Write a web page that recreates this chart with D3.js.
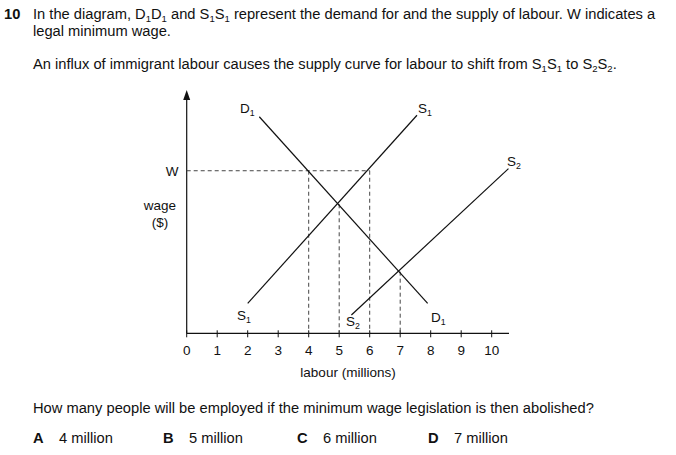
<!DOCTYPE html>
<html>
<head>
<meta charset="utf-8">
<script src="https://d3js.org/d3.v7.min.js"></script>
<style>
  body { margin: 0; background: #fff; }
  svg text { font-family: 'Liberation Sans', Arial, sans-serif; fill: #111; }
</style>
</head>
<body>
<svg id="c" width="676" height="455"></svg>
<script>
// data (labour in millions, wage in arbitrary units)
const xTicks = [0, 1, 2, 3, 4, 5, 6, 7, 8, 9, 10];
const demandD1 = [[2.38, 7.1], [7.9, 0.98]];
const supplyS1 = [[2.0, 0.98], [7.55, 7.15]];
const supplyS2 = [[5.4, 0.6], [10.55, 5.4]];
const minWage = 5.33;
const dropLines = [[4, minWage], [5, 4.23], [6, minWage], [7, 2.02]];

const svg = d3.select("#c");
const x = d3.scaleLinear().domain([0, 10]).range([186.7, 491.7]);
const y = d3.scaleLinear().domain([0, 8]).range([333.3, 89.3]);

// text with subscripts
function para(xp, yp, parts, size) {
  size = size || 14.7;
  const t = svg.append("text").attr("x", xp).attr("y", yp).attr("font-size", size);
  parts.forEach(p => {
    if (typeof p === "string") t.append("tspan").text(p);
    else t.append("tspan").attr("font-size", size * 0.65).attr("baseline-shift", "-3").text(p.sub);
  });
  return t;
}
function sub(s) { return {sub: s}; }
svg.append("text").attr("x", 4).attr("y", 19).attr("font-size", 14.7).attr("font-weight", "bold").text("10");
para(33, 19, ["In the diagram, D", sub("1"), "D", sub("1"), " and S", sub("1"), "S", sub("1"),
  " represent the demand for and the supply of labour. W indicates a"]);
para(33, 36, ["legal minimum wage."]);
para(33, 69, ["An influx of immigrant labour causes the supply curve for labour to shift from S", sub("1"),
  "S", sub("1"), " to S", sub("2"), "S", sub("2"), "."]);

// axes
const g = svg.append("g").attr("stroke", "#111").attr("fill", "none");
g.append("line").attr("x1", x(0)).attr("y1", y(0)).attr("x2", 509).attr("y2", y(0)).attr("stroke-width", 1.2);
g.append("line").attr("x1", x(0)).attr("y1", y(0)).attr("x2", x(0)).attr("y2", 98).attr("stroke-width", 1.2);
svg.append("path").attr("d", `M${x(0) - 3.5},100 L${x(0)},90 L${x(0) + 3.5},100 Z`).attr("fill", "#111");
xTicks.forEach(v => {
  g.append("line").attr("x1", x(v)).attr("x2", x(v)).attr("y1", y(0) - 3).attr("y2", y(0) + 4);
  svg.append("text").attr("x", x(v)).attr("y", 355).attr("text-anchor", "middle").attr("font-size", 13.5).text(v);
});
svg.append("text").attr("x", 348).attr("y", 377).attr("text-anchor", "middle").attr("font-size", 13.5).text("labour (millions)");
svg.append("text").attr("x", 172).attr("y", 176).attr("text-anchor", "middle").attr("font-size", 13.5).text("W");
svg.append("text").attr("x", 160).attr("y", 210).attr("text-anchor", "middle").attr("font-size", 13.5).text("wage");
svg.append("text").attr("x", 160).attr("y", 227).attr("text-anchor", "middle").attr("font-size", 13.5).text("($)");

// dashed lines
const dash = svg.append("g").attr("stroke", "#444").attr("stroke-dasharray", "4,3").attr("stroke-width", 1);
dash.append("line").attr("x1", x(0)).attr("x2", x(6)).attr("y1", y(minWage)).attr("y2", y(minWage));
dropLines.forEach(d => dash.append("line").attr("x1", x(d[0])).attr("x2", x(d[0])).attr("y1", y(d[1])).attr("y2", y(0)));

// curves
const line = d3.line().x(d => x(d[0])).y(d => y(d[1]));
[demandD1, supplyS1, supplyS2].forEach(d =>
  svg.append("path").attr("d", line(d)).attr("fill", "none").attr("stroke", "#111").attr("stroke-width", 1.2));

// curve labels
function lab(xp, yp, L, s) { para(xp, yp, [L, sub(s)], 13.5); }
lab(240, 113, "D", "1");
lab(418, 113, "S", "1");
lab(507, 166, "S", "2");
lab(237, 320, "S", "1");
lab(346, 326, "S", "2");
lab(431, 322, "D", "1");

// answer text
para(33, 413, ["How many people will be employed if the minimum wage legislation is then abolished?"]);
const opts = [["A", "4 million", 33], ["B", "5 million", 163], ["C", "6 million", 297], ["D", "7 million", 428]];
opts.forEach(o => {
  svg.append("text").attr("x", o[2]).attr("y", 443).attr("font-size", 14.7).attr("font-weight", "bold").text(o[0]);
  svg.append("text").attr("x", o[2] + 26).attr("y", 443).attr("font-size", 14.7).text(o[1]);
});
</script>
</body>
</html>
